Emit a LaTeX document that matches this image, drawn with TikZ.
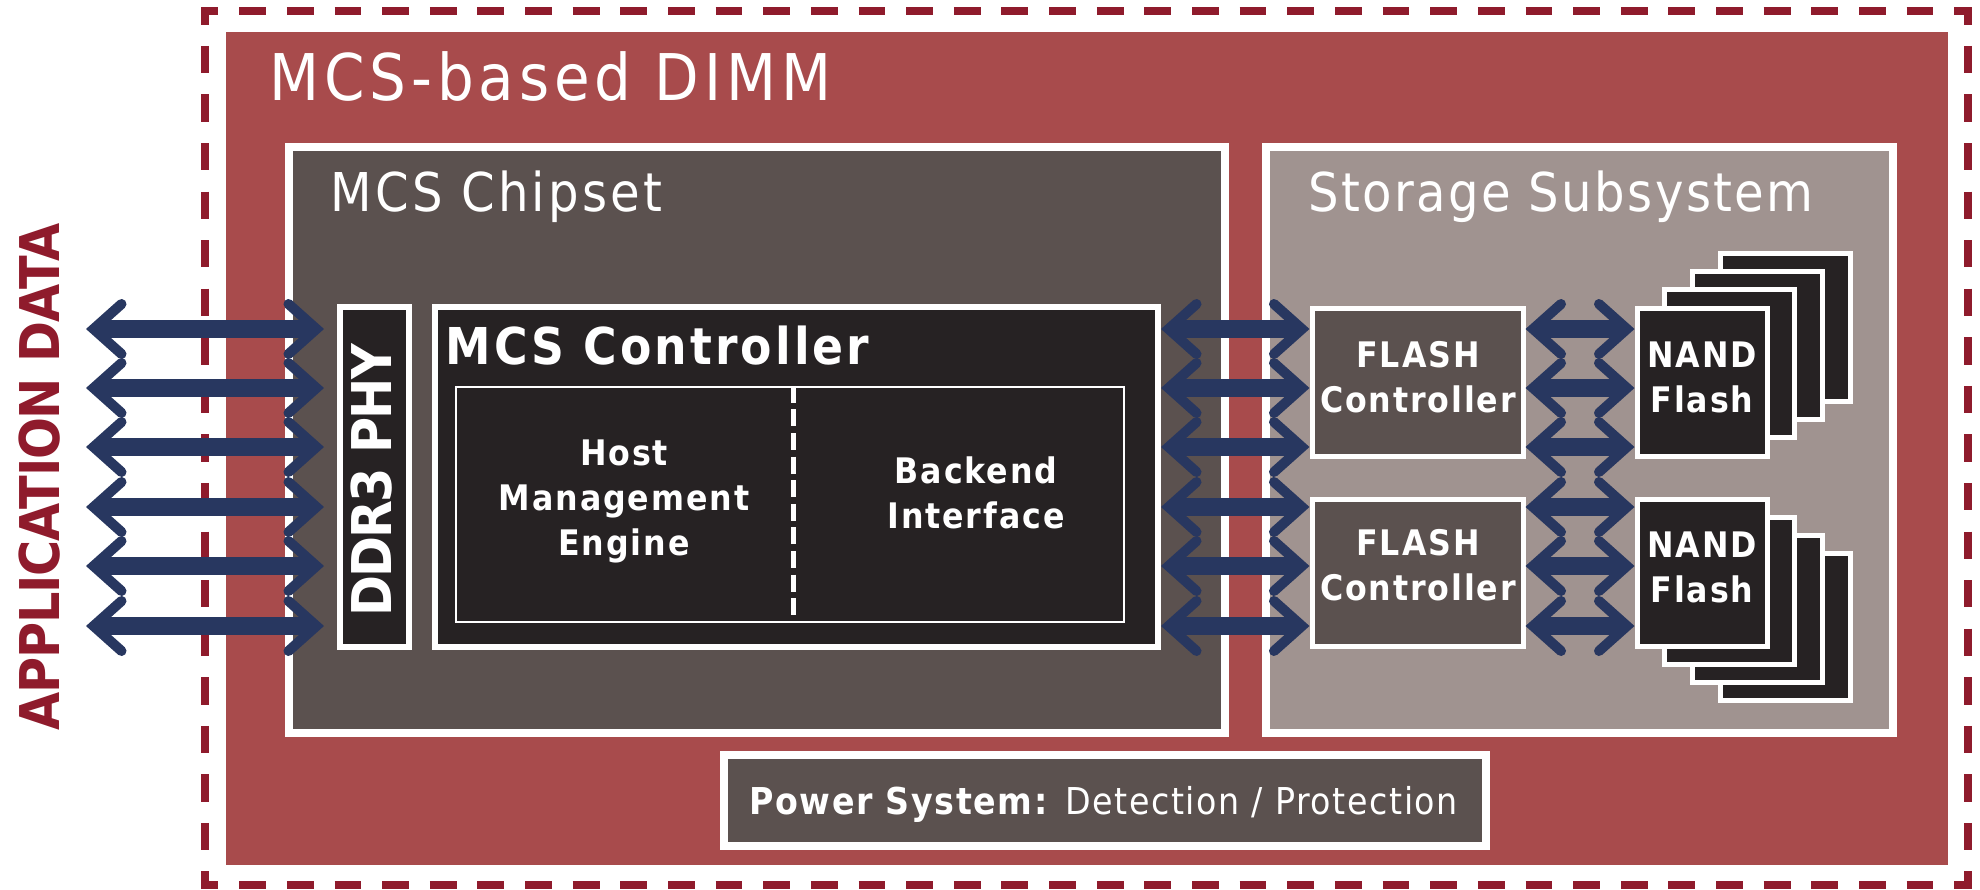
\documentclass[tikz,border=0pt]{standalone}
\usepackage{fontspec}
\setmainfont{DejaVu Sans Condensed}
\usetikzlibrary{arrows.meta}

\definecolor{dimmred}{RGB}{168,75,76}
\definecolor{dashred}{RGB}{143,27,44}
\definecolor{chipgray}{RGB}{91,81,79}
\definecolor{storgray}{RGB}{160,147,144}
\definecolor{chipblack}{RGB}{38,34,35}
\definecolor{busblue}{RGB}{40,55,96}

% font size with tracking
\newcommand\lsfont[3]{\fontsize{#1}{#2}\selectfont\addfontfeature{LetterSpace=#3}}

\tikzset{
  box/.style={draw=white, inner sep=0pt, anchor=center},
  frame/.style={box, line width=4pt},
  unit/.style={box, line width=3pt, fill=chipblack},
  flashbox/.style={box, line width=2.5pt, fill=chipgray},
  nandbox/.style={box, line width=2.5pt, fill=chipblack,
    minimum width=65pt, minimum height=74pt},
  lbl/.style={text=white, inner sep=0pt},
  title/.style={lbl, anchor=base west},
  blk/.style={lbl, align=center, anchor=base, font=\bfseries\lsfont{17.6pt}{22.5pt}{5.4}},
  barb/.tip={Straight Barb[length=14pt,width=25pt,line width=5pt 0 0,line cap=round,line join=miter]},
  bus/.style={busblue, line width=9pt, barb-barb},
  hdash/.style={dashred, line width=4pt, dash pattern=on 13.4pt off 10.42pt, dash phase=4.7pt},
  vdash/.style={dashred, line width=4pt, dash pattern=on 13.66pt off 10.62pt, dash phase=4.83pt},
  divider/.style={white, line width=2.5pt, dash pattern=on 8.5pt off 3.3pt},
}

\begin{document}
\begin{tikzpicture}[x=0.5pt,y=-0.5pt]
\useasboundingbox (0,0) rectangle (1980,889);

% dashed module outline
\draw[hdash] (201,11) -- (1972,11);
\draw[hdash] (201,885) -- (1972,885);
\draw[vdash] (205,7) -- (205,889);
\draw[vdash] (1968,7) -- (1968,889);

% DIMM body
\node[box, draw=none, fill=dimmred, minimum width=861pt, minimum height=416.5pt] (dimm) at (1087,448.5) {};
\node[title, font=\lsfont{32.2pt}{36pt}{7.6}] (dimmtitle) at (269,100) {MCS-based DIMM};

% chipset and storage panels
\node[frame, fill=chipgray, minimum width=468pt, minimum height=293pt] (chipset) at (757,440) {};
\node[frame, fill=storgray, minimum width=313.5pt, minimum height=293pt] (storage) at (1579.5,440) {};
\node[title, font=\lsfont{26.75pt}{30pt}{6.2}] (chiptitle) at (330,211) {MCS Chipset};
\node[title, font=\lsfont{26.75pt}{30pt}{4.5}] (stortitle) at (1308,211) {Storage Subsystem};

% DDR3 PHY and controller
\node[unit, minimum width=34.5pt, minimum height=170pt] (ddr) at (374.5,477) {};
\node[lbl, rotate=90, anchor=base, font=\bfseries\lsfont{27.4pt}{30pt}{-3.5}] (ddrtext) at (391,480.5) {DDR3 PHY};
\node[unit, minimum width=361.5pt, minimum height=170pt] (ctrl) at (796.5,477) {};
\node[title, font=\bfseries\lsfont{25.4pt}{30pt}{6.1}] (ctrltext) at (445,364) {MCS Controller};
\node[box, line width=1.2pt, minimum width=334pt, minimum height=117.5pt] (core) at (790,504.5) {};
\draw[divider] ([xshift=1.5pt]core.north) -- ([xshift=1.5pt]core.south);
\node[blk] (host) at (624,555) {Host\\Management\\Engine};
\node[blk] (backend) at (976,528) {Backend\\Interface};

% flash controllers
\node[flashbox, minimum width=105.5pt, minimum height=74pt] (fc1) at (1417.5,382) {};
\node[flashbox, minimum width=105.5pt, minimum height=73.5pt] (fc2) at (1417.5,572.5) {};
\node[blk] (fc1text) at (1418,412) {FLASH\\Controller};
\node[blk] (fc2text) at (1418,600) {FLASH\\Controller};

% NAND stacks
\foreach \k in {3,2,1} {
  \node[nandbox] (nandA\k) at ({1702+27.7*\k},{382-18.3*\k}) {};
}
\node[nandbox] (nandA) at (1702,382) {};
\foreach \k in {3,2,1} {
  \node[nandbox, minimum height=73.5pt] (nandB\k) at ({1702+27.7*\k},{572.5+18.3*\k}) {};
}
\node[nandbox, minimum height=73.5pt] (nandB) at (1702,572.5) {};
\node[blk] (nandAtext) at (1702,412) {NAND\\Flash};
\node[blk] (nandBtext) at (1702,602) {NAND\\Flash};

% power system
\node[frame, fill=chipgray, minimum width=381pt, minimum height=45.5pt] (power) at (1105,800.5) {};
\node[title, font=\lsfont{18.5pt}{22pt}{4.3}] (powertext) at (749,814) {\textbf{Power System:} Detection / Protection};

% application side label
\node[lbl, text=dashred, rotate=90, anchor=base, font=\bfseries\lsfont{27.4pt}{30pt}{-2.3}] (app) at (59,477) {APPLICATION DATA};

% data lanes
\foreach \i/\y in {1/329,2/388,3/447,4/507,5/566,6/626} {
  \coordinate (lane\i) at (86,\y);
}
\foreach \i in {1,...,6} {
  \draw[bus, shorten >=6.5pt] (lane\i) -- (lane\i -| ddr.west);
}
\foreach \i/\f/\n in {1/fc1/nandA,2/fc1/nandA,3/fc1/nandA,4/fc2/nandB,5/fc2/nandB,6/fc2/nandB} {
  \draw[bus] (ctrl.east |- lane\i) -- (\f.west |- lane\i);
  \draw[bus] (\f.east |- lane\i) -- (\n.west |- lane\i);
}
\end{tikzpicture}
\end{document}
